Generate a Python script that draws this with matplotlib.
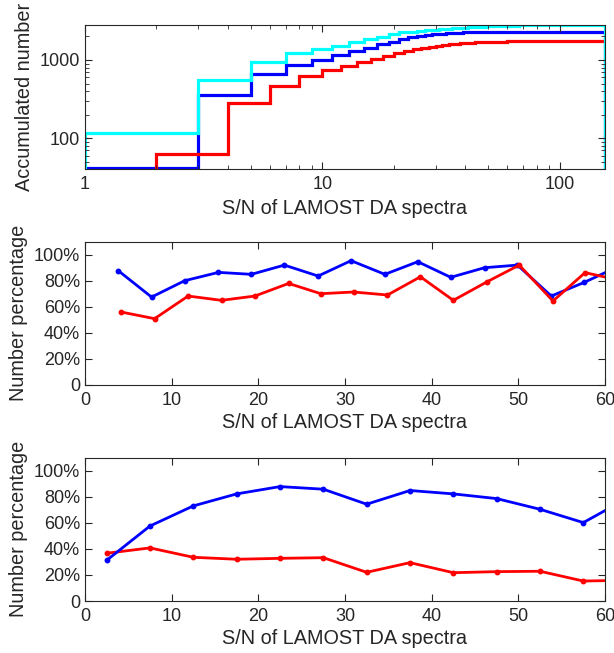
import numpy as np
import matplotlib
matplotlib.use("Agg")
import matplotlib.pyplot as plt
from matplotlib.ticker import FixedLocator, FuncFormatter, LogLocator, NullFormatter

plt.rcParams['font.family'] = ['Liberation Sans', 'DejaVu Sans']

# ---- Top panel: cumulative counts in S/N bins of width 2 ----
edges_odd = np.arange(1, 157, 2)    # 1, 3, ..., 155
edges_even = np.arange(2, 158, 2)   # 2, 4, ..., 156

cum_all = [118, 556, 940, 1215, 1365, 1505, 1680, 1835, 1985, 2125,
           2255, 2300, 2346, 2390, 2430, 2468, 2503, 2535, 2562, 2588,
           2610, 2630, 2648, 2665, 2680, 2694, 2706, 2717, 2727, 2736,
           2744, 2751, 2757, 2762, 2767, 2771, 2775, 2778, 2781, 2784,
           2786, 2788, 2790, 2791, 2792, 2793, 2794, 2795, 2796, 2796,
           2797, 2797, 2798, 2798, 2798, 2799, 2799, 2799, 2799, 2800,
           2800, 2800, 2800, 2800, 2800, 2800, 2800, 2800, 2800, 2800,
           2800, 2800, 2800, 2800, 2800, 2800, 2800]

cum_blue = [41, 358, 662, 855, 998, 1156, 1300, 1435, 1583, 1713,
            1835, 1946, 2025, 2090, 2140, 2180, 2205, 2225, 2240, 2250,
            2258, 2264, 2269, 2273, 2276, 2279, 2281, 2283, 2285, 2286,
            2287, 2288, 2289, 2290, 2290, 2291, 2291, 2292, 2292, 2293,
            2293, 2293, 2294, 2294, 2294, 2294, 2295, 2295, 2295, 2295,
            2295, 2296, 2296, 2296, 2296, 2296, 2296, 2297, 2297, 2297,
            2297, 2297, 2297, 2297, 2298, 2298, 2298, 2298, 2298, 2298,
            2298, 2298, 2299, 2299, 2299, 2299, 2299]

cum_red = [63, 280, 466, 624, 743, 844, 950, 1028, 1123, 1214,
           1288, 1365, 1421, 1479, 1522, 1560, 1590, 1615, 1635, 1652,
           1665, 1677, 1687, 1696, 1703, 1709, 1714, 1718, 1722, 1725,
           1727, 1729, 1731, 1732, 1733, 1734, 1735, 1736, 1736, 1737,
           1737, 1738, 1738, 1738, 1739, 1739, 1739, 1739, 1740, 1740,
           1740, 1740, 1740, 1740, 1741, 1741, 1741, 1741, 1741, 1741,
           1741, 1742, 1742, 1742, 1742, 1742, 1742, 1742, 1742, 1742,
           1743, 1743, 1743, 1743, 1743, 1743, 1743]

# ---- Middle panel ----
mid_blue_x = [3.84, 7.68, 11.5, 15.4, 19.2, 23.0, 26.9, 30.7, 34.6, 38.4,
              42.2, 46.1, 49.9, 53.8, 57.6, 61.4]
mid_blue_y = [87.7, 67.4, 80.0, 86.4, 84.9, 92.0, 83.6, 95.4, 84.9, 94.6,
              82.6, 90.0, 92.0, 68.2, 78.7, 90.5]
mid_red_x = [4.18, 8.03, 11.9, 15.75, 19.6, 23.5, 27.2, 31.0, 34.9, 38.7,
             42.5, 46.4, 50.1, 54.0, 57.7, 61.6]
mid_red_y = [55.9, 50.8, 68.2, 64.9, 68.2, 77.9, 70.0, 71.3, 69.0, 83.0,
             64.9, 79.2, 92.0, 64.4, 86.2, 80.5]

# ---- Bottom panel ----
bot_x = [2.5, 7.5, 12.5, 17.5, 22.5, 27.5, 32.5, 37.5, 42.5, 47.5, 52.5, 57.5, 62.5]
bot_blue_y = [31.2, 57.5, 72.9, 82.1, 87.7, 85.7, 74.2, 84.7, 82.1, 78.5, 70.3, 60.1, 78.5]
bot_red_y = [36.6, 40.7, 33.5, 32.0, 32.7, 33.2, 22.0, 29.4, 21.7, 22.5, 22.8, 15.3, 15.9]

pct_ticks = [0, 20, 40, 60, 80, 100]
xlabel = "S/N of LAMOST DA spectra"

ink = (0.15, 0.15, 0.15)
tick_fs = 13
label_fs = 14.3

fig = plt.figure(figsize=(6.14, 6.53), dpi=100)
W, H = 614.0, 653.0
left, right = 85, 605


def make_axes(top_px, bottom_px):
    return fig.add_axes([left / W, 1 - bottom_px / H, (right - left) / W, (bottom_px - top_px) / H])


def style(ax):
    for s in ax.spines.values():
        s.set_color(ink)
        s.set_linewidth(0.8)
    ax.tick_params(which='both', direction='in', top=True, right=True,
                   colors=ink, labelsize=tick_fs, labelcolor=ink)
    ax.tick_params(which='major', length=5, width=0.8)
    ax.tick_params(which='minor', length=3, width=0.6)
    ax.tick_params(axis='x', which='major', pad=5)


# Top panel
ax1 = make_axes(25, 169.3)
ax1.set_xscale('log')
ax1.set_yscale('log')
ax1.stairs(cum_blue, edges_odd, baseline=1, color=(0, 0, 1), lw=2.3)
ax1.stairs(cum_red, edges_even, baseline=1, color=(1, 0, 0), lw=2.3)
ax1.stairs(cum_all, edges_odd, baseline=1, color=(0, 1, 1), lw=2.3)
ax1.set_xlim(1, 155)
ax1.set_ylim(40, 2800)
ax1.xaxis.set_major_locator(FixedLocator([1, 10, 100]))
ax1.xaxis.set_major_formatter(FuncFormatter(lambda v, p: f"{v:g}"))
ax1.xaxis.set_minor_locator(LogLocator(base=10, subs=np.arange(2, 10)))
ax1.xaxis.set_minor_formatter(NullFormatter())
ax1.yaxis.set_major_locator(FixedLocator([100, 1000]))
ax1.yaxis.set_major_formatter(FuncFormatter(lambda v, p: f"{v:g}"))
ax1.yaxis.set_minor_locator(LogLocator(base=10, subs=np.arange(2, 10)))
ax1.yaxis.set_minor_formatter(NullFormatter())
style(ax1)
ax1.set_xlabel(xlabel, fontsize=label_fs, color=ink, labelpad=4)
ax1.set_ylabel("Accumulated number", fontsize=label_fs, color=ink, labelpad=4)


def pct_fmt(v, p):
    return "0" if v == 0 else f"{v:g}%"


def pct_panel(ax):
    ax.set_xlim(0, 60)
    ax.set_ylim(0, 110)
    ax.set_xticks([0, 10, 20, 30, 40, 50, 60])
    ax.set_yticks(pct_ticks)
    ax.yaxis.set_major_formatter(FuncFormatter(pct_fmt))
    style(ax)
    ax.set_xlabel(xlabel, fontsize=label_fs, color=ink, labelpad=3)
    ax.set_ylabel("Number percentage", fontsize=label_fs, color=ink, labelpad=4)


# Middle panel
ax2 = make_axes(241.7, 384.7)
ax2.plot(mid_blue_x, mid_blue_y, color=(0, 0, 1), lw=2.0, marker='o', ms=3.2)
ax2.plot(mid_red_x, mid_red_y, color=(1, 0, 0), lw=2.0, marker='o', ms=3.2)
pct_panel(ax2)

# Bottom panel
ax3 = make_axes(457.5, 601)
ax3.plot(bot_x, bot_red_y, color=(1, 0, 0), lw=2.0, marker='o', ms=3.2)
ax3.plot(bot_x, bot_blue_y, color=(0, 0, 1), lw=2.0, marker='o', ms=3.2)
pct_panel(ax3)

fig.savefig("out.png", dpi=100)
